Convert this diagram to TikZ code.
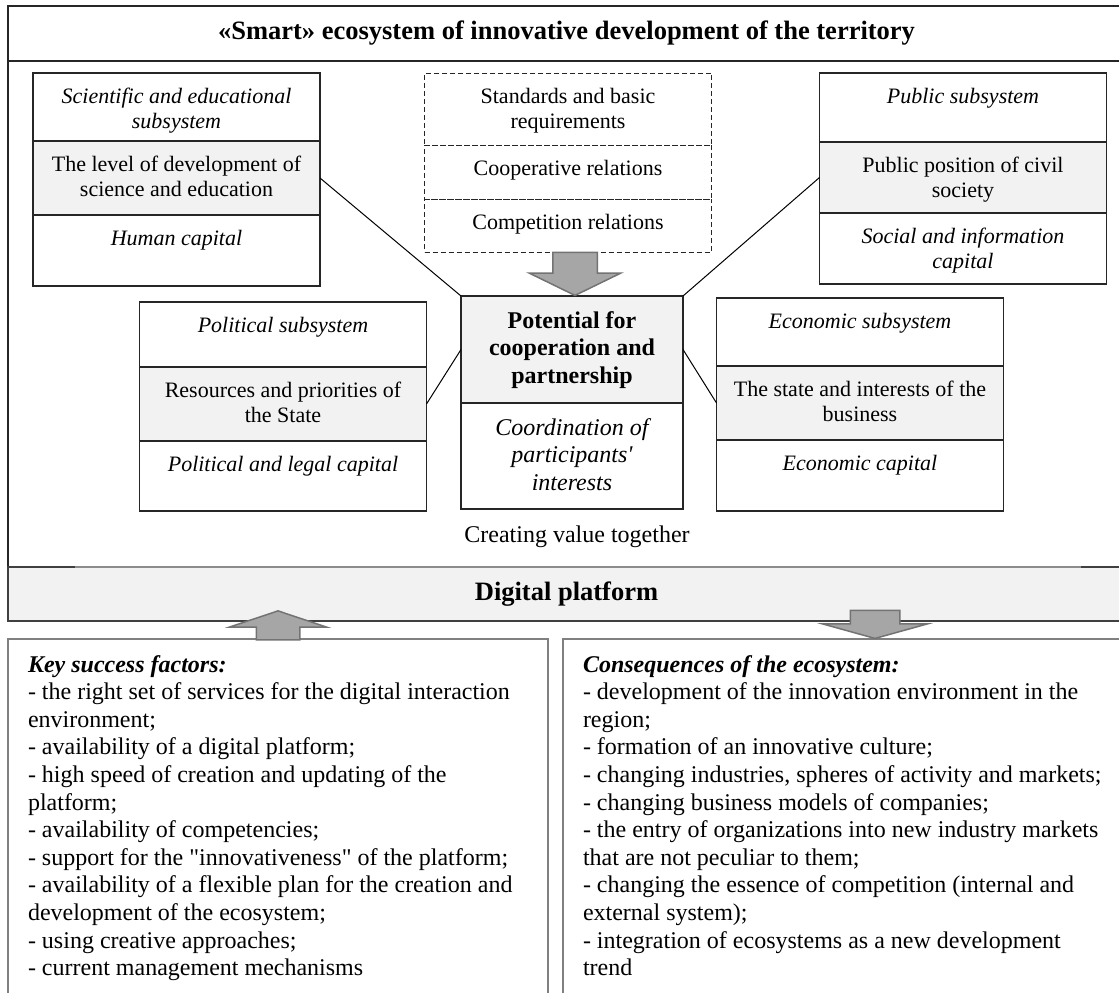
\documentclass[tikz,border=0pt]{standalone}
\usepackage{fontspec}
\setmainfont{Liberation Serif}
\usetikzlibrary{shapes.arrows,positioning,calc}

\begin{document}
\begin{tikzpicture}[
    x=1pt, y=-1pt,
    ecoframe/.style={draw=black!85, line width=1.5pt, outer sep=0pt, inner sep=0pt, anchor=north west},
    cell/.style={draw=black!85, line width=1.2pt, outer sep=0pt, inner sep=0pt, font=\fontsize{22}{25.3}\selectfont,
        execute at begin node={\begin{minipage}[t][#1pt][t]{287pt}\centering\rule{0pt}{30pt}},
        execute at end node={\end{minipage}}},
    midcell/.style={draw=black!85, line width=1.2pt, outer sep=0pt, inner sep=0pt, font=\fontsize{24}{27.6}\selectfont,
        execute at begin node={\begin{minipage}[t][#1pt][t]{222pt}\centering\rule{0pt}{32pt}},
        execute at end node={\end{minipage}}},
    greycell/.style={fill=black!5},
    dashcell/.style={dash pattern=on 5pt off 3pt, line width=1pt},
    joinline/.style={draw=black, line width=1pt},
    listbox/.style={draw=black!50, line width=2pt, outer sep=0pt, inner xsep=20pt, inner ysep=0pt, anchor=north west, font=\fontsize{24}{27.6}\selectfont,
        execute at begin node={\begin{minipage}[t][380pt][t]{#1pt}\raggedright\rule{0pt}{33pt}},
        execute at end node={\end{minipage}}},
    blockarrow/.style={single arrow, draw=black!55, fill=black!35, line width=1.5pt, inner sep=0pt, outer sep=0pt,
        text width=#1pt, text height=0pt, text depth=0pt}
]
\useasboundingbox (0,0) rectangle (1119,993);

% Ecosystem frame and title
\node[ecoframe, minimum width=1117, minimum height=561] (eco) at (8,6) {};
\node[ecoframe, line width=2pt, minimum width=1117, minimum height=55, font=\bfseries\fontsize{26.5}{30}\selectfont] (title) at (8,6) {«Smart» ecosystem of innovative development of the territory};

% Subsystems
\node[cell=68, anchor=north] (sci) at (176.5,73) {\textit{Scientific and educational\\subsystem}};
\node[cell=74, greycell, below=0pt of sci] (scimid) {The level of development of\\science and education};
\node[cell=71, below=0pt of scimid] (scicap) {\textit{Human capital}};

\node[cell=69, anchor=north] (pub) at (963,73) {\textit{Public subsystem}};
\node[cell=71, greycell, below=0pt of pub] (pubmid) {Public position of civil\\society};
\node[cell=71, below=0pt of pubmid] (pubcap) {\textit{Social and information\\capital}};

\node[cell=65, anchor=north] (pol) at (283,302) {\textit{Political subsystem}};
\node[cell=74, greycell, below=0pt of pol] (polmid) {Resources and priorities of\\the State};
\node[cell=70, below=0pt of polmid] (polcap) {\textit{Political and legal capital}};

\node[cell=68, anchor=north] (econ) at (860,298) {\textit{Economic subsystem}};
\node[cell=74, greycell, below=0pt of econ] (econmid) {The state and interests of the\\business};
\node[cell=71, below=0pt of econmid] (econcap) {\textit{Economic capital}};

% Rules of interaction
\node[cell=72, dashcell, anchor=north] (norms) at (568,73) {Standards and basic\\requirements};
\node[cell=54, dashcell, below=0pt of norms] (coop) {Cooperative relations};
\node[cell=53, dashcell, below=0pt of coop] (compet) {Competition relations};

% Core
\node[midcell=107, greycell, anchor=north] (potential) at (572,296) {\textbf{Potential for\\cooperation and\\partnership}};
\node[midcell=106, below=0pt of potential] (coord) {\textit{Coordination of\\participants\textquotesingle\\interests}};
\node[blockarrow=43, minimum height=43, minimum width=90, single arrow head extend=23.5pt, single arrow tip angle=128, shape border rotate=270] (push) at (575,268.5) {};

\draw[joinline] (scimid.east) -- (potential.north west);
\draw[joinline] (pubmid.west) -- (potential.north east);
\draw[joinline] (polmid.east) -- (potential.west);
\draw[joinline] (econmid.west) -- (potential.east);

\node[font=\fontsize{24}{27.6}\selectfont] (value) at (577,537) {Creating value together};

% Digital platform
\node[ecoframe, draw=black!75, line width=2pt, fill=black!5, minimum width=1117, minimum height=54, font=\bfseries\fontsize{26.5}{30}\selectfont] (platform) at (8,567) {Digital platform};
\draw[black!45, line width=1.5pt, shorten <=67pt, shorten >=44pt] (platform.north west) -- (platform.north east);

% Factors and consequences
\node[listbox=500] (factors) at (8,639) {\textbf{\textit{Key success factors:}}\\
- the right set of services for the digital interaction\\
environment;\\
- availability of a digital platform;\\
- high speed of creation and updating of the\\
platform;\\
- availability of competencies;\\
- support for the \textquotedbl innovativeness\textquotedbl{} of the platform;\\
- availability of a flexible plan for the creation and\\
development of the ecosystem;\\
- using creative approaches;\\
- current management mechanisms};
\node[listbox=540] (effects) at (563,639) {\textbf{\textit{Consequences of the ecosystem:}}\\
- development of the innovation environment in the\\
region;\\
- formation of an innovative culture;\\
- changing industries, spheres of activity and markets;\\
- changing business models of companies;\\
- the entry of organizations into new industry markets\\
that are not peculiar to them;\\
- changing the essence of competition (internal and\\
external system);\\
- integration of ecosystems as a new development\\
trend};

\node[blockarrow=42, minimum height=29, minimum width=96, single arrow head extend=27pt, single arrow tip angle=143, shape border rotate=90] (rise) at (278,629) {};
\node[blockarrow=48, minimum height=28, minimum width=103, single arrow head extend=27.5pt, single arrow tip angle=149, shape border rotate=270] (fall) at (875,621) {};

\end{tikzpicture}
\end{document}
